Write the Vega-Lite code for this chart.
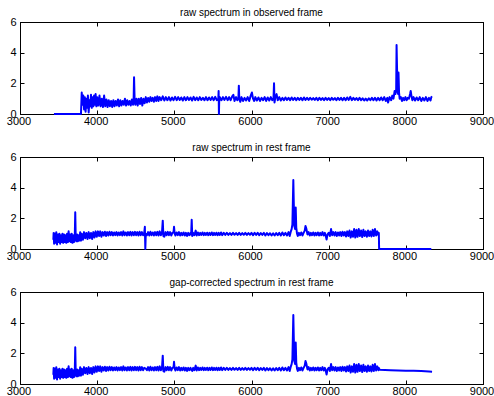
{
"$schema": "https://vega.github.io/schema/vega-lite/v6.json",
"padding": {"left": 5, "top": 7, "right": 5, "bottom": 5},
"bounds": "flush",
"spacing": 43,
"config": {
  "font": "Liberation Sans",
  "view": {"stroke": "black", "strokeWidth": 1},
  "line": {"strokeJoin": "round", "strokeCap": "butt"},
  "axis": {"domainColor": "black", "domainWidth": 1, "tickColor": "black", "tickWidth": 1, "tickSize": -4, "labelColor": "black", "labelFont": "Liberation Sans", "labelFontSize": 11, "grid": false, "title": null, "labelFlush": false, "labelOverlap": false},
  "title": {"font": "Liberation Sans", "fontSize": 10, "fontWeight": "normal", "color": "black", "offset": -2, "frame": "group"}
},
"data": {"values": [
{"s":"o","w":3440,"f":0},{"s":"o","w":3790,"f":0},{"s":"o","w":3795,"f":0.7},{"s":"o","w":3800,"f":1.4},{"s":"o","w":3810,"f":0.6},{"s":"o","w":3820,"f":1.2},{"s":"o","w":3830,"f":0.3},{"s":"o","w":3840,"f":1.1},{"s":"o","w":3850,"f":0.15},{"s":"o","w":3860,"f":1.0},{"s":"o","w":3870,"f":0.4},{"s":"o","w":3880,"f":1.2},{"s":"o","w":3890,"f":0.1},{"s":"o","w":3900,"f":0.9},{"s":"o","w":3910,"f":0.5},{"s":"o","w":3920,"f":1.25},{"s":"o","w":3930,"f":0.4},{"s":"o","w":3940,"f":1.1},{"s":"o","w":3950,"f":0.5},{"s":"o","w":3960,"f":1.2},{"s":"o","w":3970,"f":0.6},{"s":"o","w":3980,"f":1.3},{"s":"o","w":3990,"f":0.5},{"s":"o","w":4000,"f":1.1},{"s":"o","w":4015,"f":0.55},{"s":"o","w":4030,"f":1.2},{"s":"o","w":4045,"f":0.5},{"s":"o","w":4060,"f":1.0},{"s":"o","w":4075,"f":0.45},{"s":"o","w":4090,"f":1.2},{"s":"o","w":4105,"f":0.5},{"s":"o","w":4120,"f":0.95},{"s":"o","w":4135,"f":0.45},{"s":"o","w":4150,"f":0.9},{"s":"o","w":4165,"f":0.5},{"s":"o","w":4180,"f":0.85},{"s":"o","w":4195,"f":0.45},{"s":"o","w":4210,"f":0.9},{"s":"o","w":4225,"f":0.5},{"s":"o","w":4240,"f":0.85},{"s":"o","w":4255,"f":0.55},{"s":"o","w":4270,"f":0.95},{"s":"o","w":4285,"f":0.5},{"s":"o","w":4300,"f":0.9},{"s":"o","w":4315,"f":0.55},{"s":"o","w":4330,"f":0.85},{"s":"o","w":4345,"f":0.6},{"s":"o","w":4360,"f":1.0},{"s":"o","w":4375,"f":0.55},{"s":"o","w":4390,"f":0.9},{"s":"o","w":4405,"f":0.6},{"s":"o","w":4420,"f":0.85},{"s":"o","w":4435,"f":0.55},{"s":"o","w":4450,"f":0.95},{"s":"o","w":4465,"f":0.6},{"s":"o","w":4472,"f":0.8},{"s":"o","w":4478,"f":2.4},{"s":"o","w":4486,"f":0.8},{"s":"o","w":4495,"f":0.6},{"s":"o","w":4510,"f":1.0},{"s":"o","w":4525,"f":0.55},{"s":"o","w":4540,"f":1.0},{"s":"o","w":4555,"f":0.65},{"s":"o","w":4570,"f":1.05},{"s":"o","w":4585,"f":0.55},{"s":"o","w":4600,"f":1.0},{"s":"o","w":4615,"f":0.7},{"s":"o","w":4630,"f":1.1},{"s":"o","w":4645,"f":0.75},{"s":"o","w":4660,"f":1.05},{"s":"o","w":4675,"f":0.8},{"s":"o","w":4690,"f":1.1},{"s":"o","w":4705,"f":0.85},{"s":"o","w":4720,"f":1.05},{"s":"o","w":4735,"f":0.8},{"s":"o","w":4750,"f":1.1},{"s":"o","w":4765,"f":0.85},{"s":"o","w":4780,"f":1.15},{"s":"o","w":4795,"f":0.85},{"s":"o","w":4810,"f":1.1},{"s":"o","w":4830,"f":0.9},{"s":"o","w":4850,"f":1.15},{"s":"o","w":4870,"f":0.88},{"s":"o","w":4890,"f":1.1},{"s":"o","w":4910,"f":0.9},{"s":"o","w":4930,"f":1.1},{"s":"o","w":4950,"f":0.88},{"s":"o","w":4970,"f":1.08},{"s":"o","w":4990,"f":0.9},{"s":"o","w":5010,"f":1.12},{"s":"o","w":5030,"f":0.9},{"s":"o","w":5050,"f":1.1},{"s":"o","w":5070,"f":0.92},{"s":"o","w":5090,"f":1.08},{"s":"o","w":5110,"f":0.88},{"s":"o","w":5130,"f":1.1},{"s":"o","w":5150,"f":0.9},{"s":"o","w":5170,"f":1.1},{"s":"o","w":5190,"f":0.92},{"s":"o","w":5210,"f":1.08},{"s":"o","w":5230,"f":0.88},{"s":"o","w":5250,"f":1.12},{"s":"o","w":5270,"f":0.9},{"s":"o","w":5290,"f":1.08},{"s":"o","w":5310,"f":0.9},{"s":"o","w":5330,"f":1.1},{"s":"o","w":5350,"f":0.92},{"s":"o","w":5370,"f":1.06},{"s":"o","w":5390,"f":0.9},{"s":"o","w":5410,"f":1.1},{"s":"o","w":5430,"f":0.9},{"s":"o","w":5450,"f":1.08},{"s":"o","w":5470,"f":0.92},{"s":"o","w":5490,"f":1.1},{"s":"o","w":5510,"f":0.9},{"s":"o","w":5530,"f":1.12},{"s":"o","w":5550,"f":0.9},{"s":"o","w":5570,"f":1.0},{"s":"o","w":5574,"f":1.5},{"s":"o","w":5578,"f":0.0},{"s":"o","w":5582,"f":1.0},{"s":"o","w":5590,"f":1.1},{"s":"o","w":5610,"f":0.9},{"s":"o","w":5630,"f":1.1},{"s":"o","w":5650,"f":0.92},{"s":"o","w":5670,"f":1.12},{"s":"o","w":5690,"f":0.9},{"s":"o","w":5710,"f":1.1},{"s":"o","w":5730,"f":0.9},{"s":"o","w":5750,"f":1.15},{"s":"o","w":5765,"f":1.25},{"s":"o","w":5780,"f":0.85},{"s":"o","w":5800,"f":1.1},{"s":"o","w":5815,"f":0.9},{"s":"o","w":5830,"f":1.0},{"s":"o","w":5836,"f":1.85},{"s":"o","w":5842,"f":0.95},{"s":"o","w":5855,"f":0.8},{"s":"o","w":5870,"f":1.1},{"s":"o","w":5890,"f":0.85},{"s":"o","w":5910,"f":1.05},{"s":"o","w":5930,"f":0.88},{"s":"o","w":5950,"f":1.1},{"s":"o","w":5970,"f":0.85},{"s":"o","w":5990,"f":1.2},{"s":"o","w":6005,"f":1.4},{"s":"o","w":6020,"f":1.0},{"s":"o","w":6035,"f":0.85},{"s":"o","w":6050,"f":1.1},{"s":"o","w":6070,"f":0.88},{"s":"o","w":6090,"f":1.08},{"s":"o","w":6110,"f":0.85},{"s":"o","w":6130,"f":1.05},{"s":"o","w":6150,"f":0.9},{"s":"o","w":6170,"f":1.1},{"s":"o","w":6190,"f":0.85},{"s":"o","w":6210,"f":1.08},{"s":"o","w":6230,"f":0.88},{"s":"o","w":6250,"f":1.1},{"s":"o","w":6270,"f":0.9},{"s":"o","w":6285,"f":1.0},{"s":"o","w":6292,"f":2.0},{"s":"o","w":6298,"f":0.75},{"s":"o","w":6310,"f":1.1},{"s":"o","w":6325,"f":1.3},{"s":"o","w":6340,"f":0.9},{"s":"o","w":6360,"f":1.1},{"s":"o","w":6380,"f":0.88},{"s":"o","w":6400,"f":1.05},{"s":"o","w":6420,"f":0.9},{"s":"o","w":6440,"f":1.08},{"s":"o","w":6460,"f":0.92},{"s":"o","w":6480,"f":1.05},{"s":"o","w":6500,"f":0.9},{"s":"o","w":6520,"f":1.08},{"s":"o","w":6540,"f":0.92},{"s":"o","w":6560,"f":1.05},{"s":"o","w":6580,"f":0.9},{"s":"o","w":6600,"f":1.06},{"s":"o","w":6620,"f":0.92},{"s":"o","w":6640,"f":1.05},{"s":"o","w":6660,"f":0.9},{"s":"o","w":6680,"f":1.08},{"s":"o","w":6700,"f":0.92},{"s":"o","w":6720,"f":1.05},{"s":"o","w":6740,"f":0.92},{"s":"o","w":6760,"f":1.06},{"s":"o","w":6780,"f":0.93},{"s":"o","w":6800,"f":1.04},{"s":"o","w":6820,"f":0.92},{"s":"o","w":6840,"f":1.05},{"s":"o","w":6860,"f":0.9},{"s":"o","w":6880,"f":1.06},{"s":"o","w":6900,"f":0.92},{"s":"o","w":6920,"f":1.04},{"s":"o","w":6940,"f":0.9},{"s":"o","w":6960,"f":1.05},{"s":"o","w":6980,"f":0.92},{"s":"o","w":7000,"f":1.04},{"s":"o","w":7020,"f":0.9},{"s":"o","w":7040,"f":1.05},{"s":"o","w":7060,"f":0.93},{"s":"o","w":7080,"f":1.04},{"s":"o","w":7100,"f":0.9},{"s":"o","w":7120,"f":1.06},{"s":"o","w":7140,"f":0.92},{"s":"o","w":7160,"f":1.05},{"s":"o","w":7180,"f":0.9},{"s":"o","w":7200,"f":1.06},{"s":"o","w":7220,"f":0.9},{"s":"o","w":7240,"f":1.08},{"s":"o","w":7260,"f":0.92},{"s":"o","w":7280,"f":1.12},{"s":"o","w":7300,"f":0.9},{"s":"o","w":7320,"f":1.05},{"s":"o","w":7340,"f":0.92},{"s":"o","w":7360,"f":1.04},{"s":"o","w":7380,"f":0.9},{"s":"o","w":7400,"f":1.05},{"s":"o","w":7420,"f":0.9},{"s":"o","w":7440,"f":1.02},{"s":"o","w":7460,"f":0.88},{"s":"o","w":7480,"f":1.0},{"s":"o","w":7500,"f":0.88},{"s":"o","w":7520,"f":1.02},{"s":"o","w":7540,"f":0.9},{"s":"o","w":7560,"f":1.05},{"s":"o","w":7580,"f":0.9},{"s":"o","w":7600,"f":1.06},{"s":"o","w":7620,"f":0.88},{"s":"o","w":7640,"f":1.05},{"s":"o","w":7660,"f":0.9},{"s":"o","w":7680,"f":1.08},{"s":"o","w":7700,"f":0.9},{"s":"o","w":7720,"f":1.1},{"s":"o","w":7740,"f":0.85},{"s":"o","w":7760,"f":1.05},{"s":"o","w":7770,"f":0.75},{"s":"o","w":7790,"f":1.1},{"s":"o","w":7810,"f":0.9},{"s":"o","w":7825,"f":1.2},{"s":"o","w":7840,"f":1.0},{"s":"o","w":7855,"f":1.5},{"s":"o","w":7865,"f":1.3},{"s":"o","w":7875,"f":1.6},{"s":"o","w":7880,"f":4.5},{"s":"o","w":7886,"f":3.0},{"s":"o","w":7892,"f":1.5},{"s":"o","w":7900,"f":1.3},{"s":"o","w":7905,"f":2.7},{"s":"o","w":7912,"f":1.4},{"s":"o","w":7920,"f":1.0},{"s":"o","w":7935,"f":1.1},{"s":"o","w":7950,"f":0.85},{"s":"o","w":7965,"f":1.05},{"s":"o","w":7980,"f":0.9},{"s":"o","w":7995,"f":1.1},{"s":"o","w":8010,"f":0.9},{"s":"o","w":8025,"f":1.05},{"s":"o","w":8040,"f":1.0},{"s":"o","w":8055,"f":1.3},{"s":"o","w":8063,"f":1.5},{"s":"o","w":8072,"f":1.2},{"s":"o","w":8085,"f":0.9},{"s":"o","w":8100,"f":1.1},{"s":"o","w":8120,"f":0.88},{"s":"o","w":8140,"f":1.08},{"s":"o","w":8160,"f":0.9},{"s":"o","w":8180,"f":1.1},{"s":"o","w":8200,"f":0.85},{"s":"o","w":8220,"f":1.05},{"s":"o","w":8240,"f":0.88},{"s":"o","w":8260,"f":1.1},{"s":"o","w":8280,"f":0.85},{"s":"o","w":8300,"f":1.05},{"s":"o","w":8320,"f":0.88},{"s":"o","w":8330,"f":1.1},{"s":"o","w":8340,"f":1.15},
{"s":"b","w":3432,"f":0.6},{"s":"b","w":3436,"f":1.05},{"s":"b","w":3442,"f":0.35},{"s":"b","w":3450,"f":1.0},{"s":"b","w":3460,"f":0.4},{"s":"b","w":3470,"f":1.1},{"s":"b","w":3480,"f":0.3},{"s":"b","w":3490,"f":0.95},{"s":"b","w":3500,"f":0.45},{"s":"b","w":3510,"f":1.0},{"s":"b","w":3520,"f":0.35},{"s":"b","w":3530,"f":0.9},{"s":"b","w":3540,"f":0.45},{"s":"b","w":3550,"f":1.0},{"s":"b","w":3560,"f":0.4},{"s":"b","w":3570,"f":0.95},{"s":"b","w":3580,"f":0.45},{"s":"b","w":3590,"f":0.9},{"s":"b","w":3600,"f":0.4},{"s":"b","w":3610,"f":1.0},{"s":"b","w":3620,"f":0.45},{"s":"b","w":3630,"f":1.15},{"s":"b","w":3640,"f":0.5},{"s":"b","w":3650,"f":0.95},{"s":"b","w":3660,"f":0.45},{"s":"b","w":3670,"f":1.0},{"s":"b","w":3680,"f":0.4},{"s":"b","w":3690,"f":0.9},{"s":"b","w":3700,"f":0.45},{"s":"b","w":3710,"f":0.85},{"s":"b","w":3716,"f":2.4},{"s":"b","w":3722,"f":0.8},{"s":"b","w":3730,"f":0.5},{"s":"b","w":3740,"f":0.95},{"s":"b","w":3750,"f":0.5},{"s":"b","w":3760,"f":0.9},{"s":"b","w":3770,"f":0.55},{"s":"b","w":3780,"f":1.1},{"s":"b","w":3790,"f":0.55},{"s":"b","w":3800,"f":1.0},{"s":"b","w":3815,"f":0.6},{"s":"b","w":3830,"f":1.1},{"s":"b","w":3845,"f":0.7},{"s":"b","w":3860,"f":1.05},{"s":"b","w":3875,"f":0.65},{"s":"b","w":3890,"f":1.1},{"s":"b","w":3905,"f":0.7},{"s":"b","w":3920,"f":1.05},{"s":"b","w":3935,"f":0.65},{"s":"b","w":3950,"f":1.1},{"s":"b","w":3965,"f":0.75},{"s":"b","w":3980,"f":1.15},{"s":"b","w":3995,"f":0.8},{"s":"b","w":4010,"f":1.15},{"s":"b","w":4025,"f":0.85},{"s":"b","w":4040,"f":1.15},{"s":"b","w":4055,"f":0.8},{"s":"b","w":4070,"f":1.1},{"s":"b","w":4085,"f":0.88},{"s":"b","w":4100,"f":1.12},{"s":"b","w":4115,"f":0.85},{"s":"b","w":4130,"f":1.1},{"s":"b","w":4145,"f":0.88},{"s":"b","w":4160,"f":1.12},{"s":"b","w":4175,"f":0.9},{"s":"b","w":4190,"f":1.1},{"s":"b","w":4205,"f":0.88},{"s":"b","w":4220,"f":1.08},{"s":"b","w":4235,"f":0.9},{"s":"b","w":4250,"f":1.1},{"s":"b","w":4265,"f":0.88},{"s":"b","w":4280,"f":1.08},{"s":"b","w":4295,"f":0.9},{"s":"b","w":4310,"f":1.1},{"s":"b","w":4325,"f":0.88},{"s":"b","w":4340,"f":1.15},{"s":"b","w":4355,"f":0.9},{"s":"b","w":4370,"f":1.08},{"s":"b","w":4385,"f":0.88},{"s":"b","w":4400,"f":1.1},{"s":"b","w":4415,"f":0.9},{"s":"b","w":4430,"f":1.12},{"s":"b","w":4445,"f":0.88},{"s":"b","w":4460,"f":1.1},{"s":"b","w":4475,"f":0.9},{"s":"b","w":4490,"f":1.12},{"s":"b","w":4505,"f":0.9},{"s":"b","w":4520,"f":1.1},{"s":"b","w":4535,"f":0.88},{"s":"b","w":4550,"f":1.12},{"s":"b","w":4565,"f":0.9},{"s":"b","w":4580,"f":1.1},{"s":"b","w":4595,"f":0.9},{"s":"b","w":4610,"f":1.05},{"s":"r","w":4618,"f":1.45},{"s":"r","w":4624,"f":0.0},{"s":"b","w":4630,"f":1.0},{"s":"b","w":4645,"f":0.9},{"s":"b","w":4660,"f":1.1},{"s":"b","w":4675,"f":0.88},{"s":"b","w":4690,"f":1.12},{"s":"b","w":4705,"f":0.9},{"s":"b","w":4720,"f":1.08},{"s":"b","w":4735,"f":0.88},{"s":"b","w":4750,"f":1.1},{"s":"b","w":4765,"f":0.9},{"s":"b","w":4780,"f":1.12},{"s":"b","w":4795,"f":0.88},{"s":"b","w":4810,"f":1.15},{"s":"b","w":4825,"f":0.9},{"s":"b","w":4840,"f":1.05},{"s":"b","w":4850,"f":1.85},{"s":"b","w":4858,"f":0.85},{"s":"b","w":4870,"f":0.8},{"s":"b","w":4885,"f":1.1},{"s":"b","w":4900,"f":0.9},{"s":"b","w":4915,"f":1.12},{"s":"b","w":4930,"f":0.9},{"s":"b","w":4945,"f":1.1},{"s":"b","w":4960,"f":0.88},{"s":"b","w":4975,"f":1.05},{"s":"b","w":4990,"f":1.1},{"s":"b","w":4996,"f":1.45},{"s":"b","w":5004,"f":1.0},{"s":"b","w":5015,"f":0.88},{"s":"b","w":5030,"f":1.08},{"s":"b","w":5045,"f":0.9},{"s":"b","w":5060,"f":1.1},{"s":"b","w":5075,"f":0.88},{"s":"b","w":5090,"f":1.05},{"s":"b","w":5105,"f":0.9},{"s":"b","w":5120,"f":1.08},{"s":"b","w":5135,"f":0.88},{"s":"b","w":5150,"f":1.05},{"s":"b","w":5165,"f":0.85},{"s":"b","w":5180,"f":1.05},{"s":"b","w":5195,"f":0.9},{"s":"b","w":5210,"f":1.05},{"s":"b","w":5218,"f":0.95},{"s":"r","w":5225,"f":1.9},{"s":"b","w":5232,"f":0.85},{"s":"b","w":5245,"f":1.05},{"s":"b","w":5260,"f":0.9},{"s":"b","w":5277,"f":1.2},{"s":"b","w":5290,"f":0.88},{"s":"b","w":5305,"f":1.08},{"s":"b","w":5320,"f":0.9},{"s":"b","w":5335,"f":1.05},{"s":"b","w":5350,"f":0.92},{"s":"b","w":5365,"f":1.08},{"s":"b","w":5380,"f":0.9},{"s":"b","w":5395,"f":1.05},{"s":"b","w":5410,"f":0.92},{"s":"b","w":5425,"f":1.06},{"s":"b","w":5440,"f":0.9},{"s":"b","w":5455,"f":1.05},{"s":"b","w":5470,"f":0.92},{"s":"b","w":5485,"f":1.08},{"s":"b","w":5500,"f":0.9},{"s":"b","w":5515,"f":1.05},{"s":"b","w":5530,"f":0.92},{"s":"b","w":5545,"f":1.06},{"s":"b","w":5560,"f":0.9},{"s":"b","w":5575,"f":1.05},{"s":"b","w":5590,"f":0.92},{"s":"b","w":5605,"f":1.08},{"s":"b","w":5620,"f":0.9},{"s":"b","w":5640,"f":1.05},{"s":"b","w":5660,"f":0.92},{"s":"b","w":5680,"f":1.06},{"s":"b","w":5700,"f":0.92},{"s":"b","w":5720,"f":1.04},{"s":"b","w":5740,"f":0.92},{"s":"b","w":5760,"f":1.05},{"s":"b","w":5780,"f":0.93},{"s":"b","w":5800,"f":1.04},{"s":"b","w":5820,"f":0.92},{"s":"b","w":5840,"f":1.05},{"s":"b","w":5860,"f":0.92},{"s":"b","w":5880,"f":1.04},{"s":"b","w":5900,"f":0.93},{"s":"b","w":5920,"f":1.05},{"s":"b","w":5940,"f":0.92},{"s":"b","w":5960,"f":1.04},{"s":"b","w":5980,"f":0.93},{"s":"b","w":6000,"f":1.05},{"s":"b","w":6020,"f":0.9},{"s":"b","w":6040,"f":1.06},{"s":"b","w":6060,"f":0.92},{"s":"b","w":6080,"f":1.05},{"s":"b","w":6100,"f":0.9},{"s":"b","w":6120,"f":1.04},{"s":"b","w":6140,"f":0.92},{"s":"b","w":6160,"f":1.05},{"s":"b","w":6180,"f":0.88},{"s":"b","w":6200,"f":1.04},{"s":"b","w":6220,"f":0.9},{"s":"b","w":6240,"f":1.03},{"s":"b","w":6260,"f":0.88},{"s":"b","w":6280,"f":1.02},{"s":"b","w":6300,"f":0.88},{"s":"b","w":6320,"f":1.04},{"s":"b","w":6340,"f":0.9},{"s":"b","w":6360,"f":1.05},{"s":"b","w":6380,"f":0.88},{"s":"b","w":6400,"f":1.08},{"s":"b","w":6420,"f":0.9},{"s":"b","w":6440,"f":1.05},{"s":"b","w":6460,"f":0.88},{"s":"b","w":6480,"f":1.1},{"s":"b","w":6495,"f":0.85},{"s":"b","w":6510,"f":1.15},{"s":"b","w":6520,"f":1.3},{"s":"b","w":6530,"f":1.6},{"s":"b","w":6542,"f":4.5},{"s":"b","w":6548,"f":3.0},{"s":"b","w":6555,"f":1.5},{"s":"b","w":6565,"f":1.3},{"s":"b","w":6573,"f":2.7},{"s":"b","w":6580,"f":1.4},{"s":"b","w":6590,"f":1.0},{"s":"b","w":6600,"f":0.85},{"s":"b","w":6615,"f":1.05},{"s":"b","w":6630,"f":0.9},{"s":"b","w":6645,"f":1.08},{"s":"b","w":6660,"f":0.88},{"s":"b","w":6675,"f":1.05},{"s":"b","w":6690,"f":1.2},{"s":"b","w":6700,"f":1.5},{"s":"b","w":6712,"f":1.3},{"s":"b","w":6725,"f":0.95},{"s":"b","w":6740,"f":1.1},{"s":"b","w":6755,"f":0.88},{"s":"b","w":6770,"f":1.05},{"s":"b","w":6785,"f":0.9},{"s":"b","w":6800,"f":1.08},{"s":"b","w":6815,"f":0.88},{"s":"b","w":6830,"f":1.05},{"s":"b","w":6845,"f":0.9},{"s":"b","w":6860,"f":1.08},{"s":"b","w":6875,"f":0.88},{"s":"b","w":6890,"f":1.05},{"s":"b","w":6905,"f":0.9},{"s":"b","w":6920,"f":1.1},{"s":"b","w":6935,"f":0.88},{"s":"b","w":6950,"f":1.05},{"s":"b","w":6965,"f":0.8},{"s":"b","w":6973,"f":0.62},{"s":"b","w":6985,"f":0.95},{"s":"b","w":7000,"f":1.05},{"s":"b","w":7015,"f":0.85},{"s":"b","w":7031,"f":1.3},{"s":"b","w":7045,"f":0.9},{"s":"b","w":7060,"f":1.1},{"s":"b","w":7075,"f":0.88},{"s":"b","w":7090,"f":1.1},{"s":"b","w":7105,"f":0.85},{"s":"b","w":7120,"f":1.08},{"s":"b","w":7135,"f":0.88},{"s":"b","w":7150,"f":1.1},{"s":"b","w":7165,"f":0.85},{"s":"b","w":7180,"f":1.12},{"s":"b","w":7195,"f":0.88},{"s":"b","w":7210,"f":1.1},{"s":"b","w":7225,"f":0.82},{"s":"b","w":7240,"f":1.15},{"s":"b","w":7255,"f":0.85},{"s":"b","w":7270,"f":1.2},{"s":"b","w":7285,"f":0.75},{"s":"b","w":7300,"f":1.15},{"s":"b","w":7315,"f":0.8},{"s":"b","w":7330,"f":1.3},{"s":"b","w":7345,"f":0.75},{"s":"b","w":7360,"f":1.25},{"s":"b","w":7375,"f":0.8},{"s":"b","w":7390,"f":1.3},{"s":"b","w":7405,"f":0.85},{"s":"b","w":7420,"f":1.2},{"s":"b","w":7435,"f":0.78},{"s":"b","w":7450,"f":1.25},{"s":"b","w":7465,"f":0.85},{"s":"b","w":7480,"f":1.15},{"s":"b","w":7495,"f":0.8},{"s":"b","w":7510,"f":1.2},{"s":"b","w":7525,"f":0.85},{"s":"b","w":7540,"f":1.15},{"s":"b","w":7555,"f":0.82},{"s":"b","w":7570,"f":1.25},{"s":"b","w":7585,"f":0.85},{"s":"b","w":7600,"f":1.3},{"s":"b","w":7615,"f":0.88},{"s":"b","w":7630,"f":1.15},{"s":"b","w":7645,"f":0.9},{"s":"b","w":7650,"f":1.05},
{"s":"r","w":7654,"f":0.0},{"s":"r","w":8330,"f":0.0},
{"s":"g","w":7660,"f":0.93},{"s":"g","w":7800,"f":0.9},{"s":"g","w":7900,"f":0.88},{"s":"g","w":8000,"f":0.87},{"s":"g","w":8100,"f":0.86},{"s":"g","w":8200,"f":0.84},{"s":"g","w":8300,"f":0.81},{"s":"g","w":8340,"f":0.8}
]},
"vconcat": [
  {
    "title": "raw spectrum in observed frame",
    "width": 463, "height": 92,
    "transform": [{"filter": {"field": "s", "equal": "o"}}],
    "layer": [
      {"mark": {"type": "line", "color": "#0000ff", "strokeWidth": 2},
       "encoding": {
         "x": {"field": "w", "type": "quantitative", "scale": {"domain": [3000, 9000], "nice": false, "zero": false}, "axis": {"values": [3000,4000,5000,6000,7000,8000,9000], "labelPadding": 5, "labelOffset": -1.5, "format": "d"}},
         "y": {"field": "f", "type": "quantitative", "scale": {"domain": [0, 6], "nice": false}, "axis": {"values": [0,2,4,6], "labelPadding": 8, "format": "d"}}
       }},
      {"mark": {"type": "line", "opacity": 0},
       "encoding": {
         "x": {"field": "w", "type": "quantitative", "scale": {"domain": [3000, 9000], "nice": false, "zero": false}, "axis": {"orient": "top", "labels": false, "values": [3000,4000,5000,6000,7000,8000,9000]}},
         "y": {"field": "f", "type": "quantitative", "scale": {"domain": [0, 6], "nice": false}, "axis": {"orient": "right", "labels": false, "values": [0,2,4,6]}}
       }}
    ],
    "resolve": {"axis": {"x": "independent", "y": "independent"}}
  },
  {
    "title": "raw spectrum in rest frame",
    "width": 463, "height": 92,
    "transform": [{"filter": {"field": "s", "oneOf": ["b", "r"]}}],
    "layer": [
      {"mark": {"type": "line", "color": "#0000ff", "strokeWidth": 2},
       "encoding": {
         "x": {"field": "w", "type": "quantitative", "scale": {"domain": [3000, 9000], "nice": false, "zero": false}, "axis": {"values": [3000,4000,5000,6000,7000,8000,9000], "labelPadding": 5, "labelOffset": -1.5, "format": "d"}},
         "y": {"field": "f", "type": "quantitative", "scale": {"domain": [0, 6], "nice": false}, "axis": {"values": [0,2,4,6], "labelPadding": 8, "format": "d"}}
       }},
      {"mark": {"type": "line", "opacity": 0},
       "encoding": {
         "x": {"field": "w", "type": "quantitative", "scale": {"domain": [3000, 9000], "nice": false, "zero": false}, "axis": {"orient": "top", "labels": false, "values": [3000,4000,5000,6000,7000,8000,9000]}},
         "y": {"field": "f", "type": "quantitative", "scale": {"domain": [0, 6], "nice": false}, "axis": {"orient": "right", "labels": false, "values": [0,2,4,6]}}
       }}
    ],
    "resolve": {"axis": {"x": "independent", "y": "independent"}}
  },
  {
    "title": "gap-corrected spectrum in rest frame",
    "width": 463, "height": 92,
    "transform": [{"filter": {"field": "s", "oneOf": ["b", "g"]}}],
    "layer": [
      {"mark": {"type": "line", "color": "#0000ff", "strokeWidth": 2},
       "encoding": {
         "x": {"field": "w", "type": "quantitative", "scale": {"domain": [3000, 9000], "nice": false, "zero": false}, "axis": {"values": [3000,4000,5000,6000,7000,8000,9000], "labelPadding": 5, "labelOffset": -1.5, "format": "d"}},
         "y": {"field": "f", "type": "quantitative", "scale": {"domain": [0, 6], "nice": false}, "axis": {"values": [0,2,4,6], "labelPadding": 8, "format": "d"}}
       }},
      {"mark": {"type": "line", "opacity": 0},
       "encoding": {
         "x": {"field": "w", "type": "quantitative", "scale": {"domain": [3000, 9000], "nice": false, "zero": false}, "axis": {"orient": "top", "labels": false, "values": [3000,4000,5000,6000,7000,8000,9000]}},
         "y": {"field": "f", "type": "quantitative", "scale": {"domain": [0, 6], "nice": false}, "axis": {"orient": "right", "labels": false, "values": [0,2,4,6]}}
       }}
    ],
    "resolve": {"axis": {"x": "independent", "y": "independent"}}
  }
]
}
